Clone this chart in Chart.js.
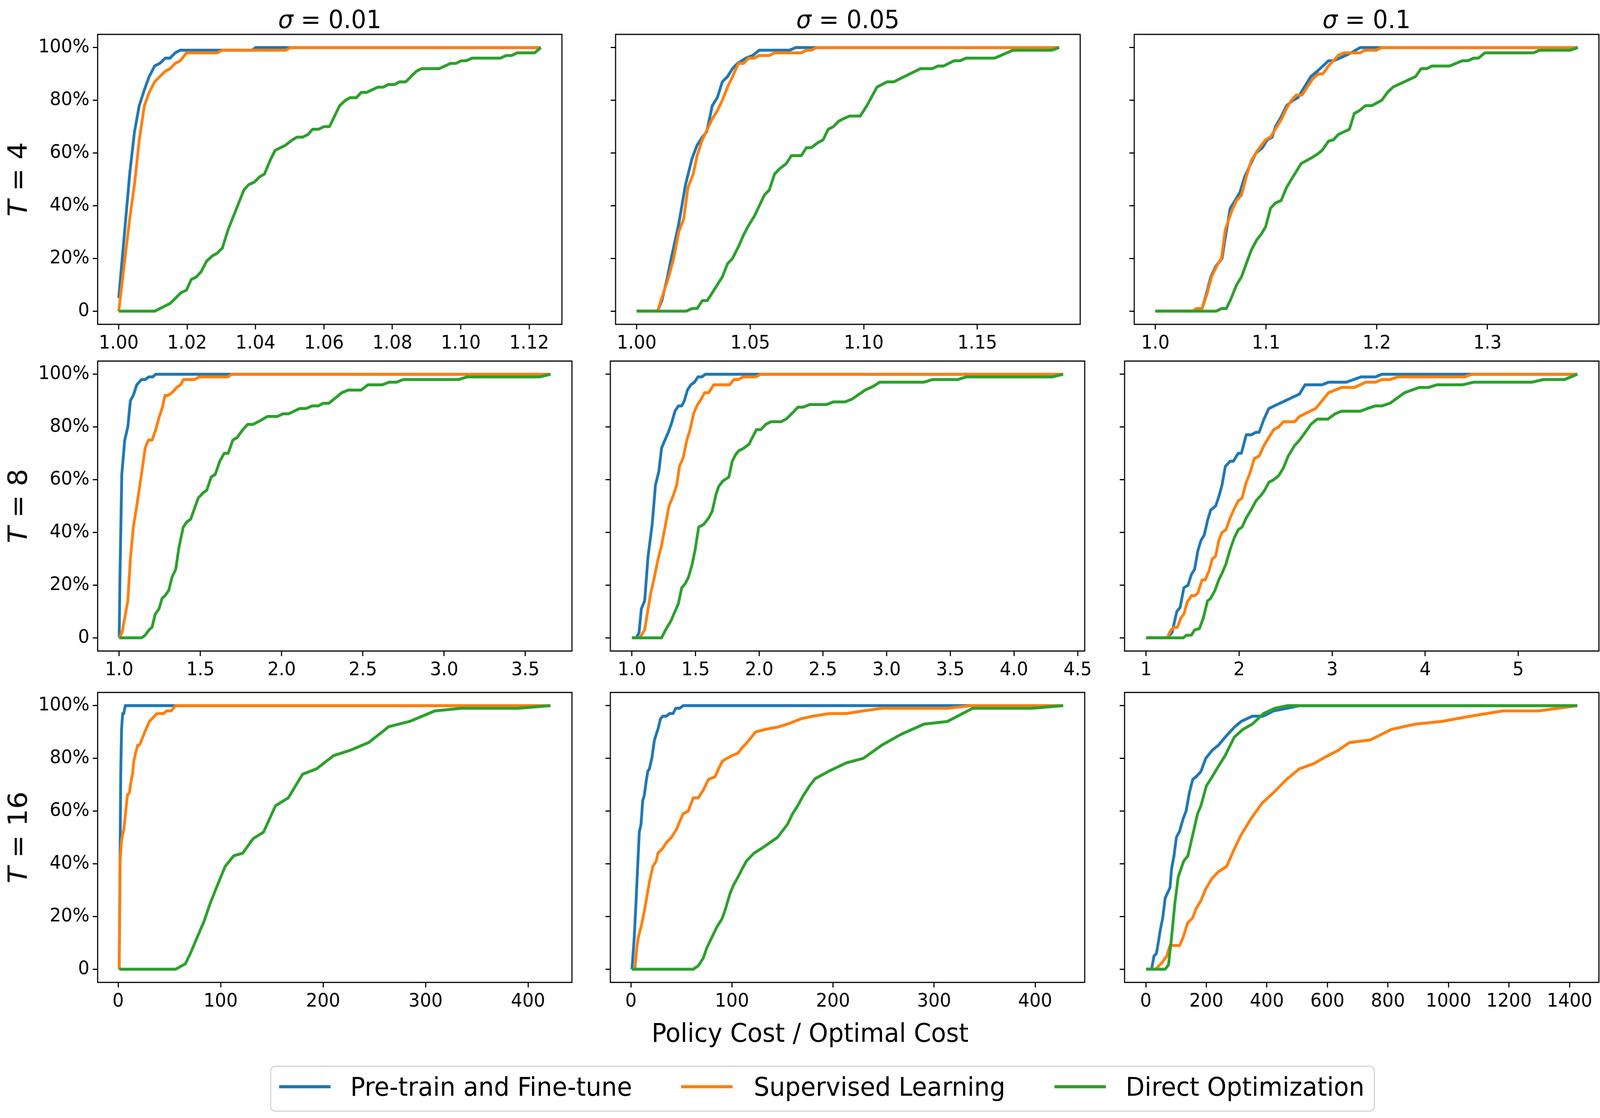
<!DOCTYPE html>
<html>
<head>
<meta charset="utf-8">
<script src="https://cdn.jsdelivr.net/npm/chart.js@4.4.1/dist/chart.umd.min.js"></script>
<style>
  html, body { margin: 0; padding: 0; background: #fff; overflow: hidden; }
  #fig { width: 4294px; height: 2861px; position: absolute; left: 0; top: 0; overflow: hidden; font-family: "DejaVu Sans", sans-serif; color: #000; background: #fff; transform-origin: 0 0; }
  canvas { position: absolute; }
  .txt { position: absolute; white-space: nowrap; line-height: 1; }
  .title { font-size: 64px; transform: translateX(-50%); }
  .rowlab { font-size: 70px; transform: translate(-50%, -50%) rotate(-90deg); }
  .legend { position: absolute; border: 3px solid #d4d4d4; border-radius: 14px; background: #fff; box-sizing: border-box; }
  .lline { position: absolute; height: 8px; }
  .ltxt { font-size: 66px; }
</style>
</head>
<body>
<div id="fig"></div>
<script>
// ---------------- DATA ----------------
const seriesNames = ['Pre-train and Fine-tune', 'Supervised Learning', 'Direct Optimization'];
const colTitles = ['0.01', '0.05', '0.1'];
const rowTitles = ['4', '8', '16'];
const yTicks = [0, 20, 40, 60, 80, 100];

const xTicks_T4_s001 = [1.00, 1.02, 1.04, 1.06, 1.08, 1.10, 1.12];
const xTicks_T4_s005 = [1.00, 1.05, 1.10, 1.15];
const xTicks_T4_s01 = [1.0, 1.1, 1.2, 1.3];
const xTicks_T8_s001 = [1.0, 1.5, 2.0, 2.5, 3.0, 3.5];
const xTicks_T8_s005 = [1.0, 1.5, 2.0, 2.5, 3.0, 3.5, 4.0, 4.5];
const xTicks_T8_s01 = [1, 2, 3, 4, 5];
const xTicks_T16_s001 = [0, 100, 200, 300, 400];
const xTicks_T16_s005 = [0, 100, 200, 300, 400];
const xTicks_T16_s01 = [0, 200, 400, 600, 800, 1000, 1200, 1400];

// T = 4, sigma = 0.01
const pf_T4_s001 = [[1.000,5],[1.0032,52],[1.0046,68],[1.006,78],[1.0075,84],[1.0089,89],[1.0105,93],[1.012,94],[1.0136,96],[1.015,96],[1.0165,98],[1.018,99],[1.039,99],[1.040,100],[1.1234,100]];
const sl_T4_s001 = [[1.000,0],[1.0032,35],[1.0046,48],[1.006,65],[1.0075,78],[1.0089,83],[1.0105,87],[1.012,89],[1.0136,91],[1.015,92],[1.0165,94],[1.018,95],[1.0198,98],[1.0288,98],[1.0303,99],[1.0488,99],[1.0502,100],[1.1234,100]];
const do_T4_s001 = [[1.000,0],[1.0105,0],[1.0151,3],[1.0182,7],[1.0198,8],[1.0212,12],[1.0227,13],[1.0241,15],[1.0257,19],[1.0274,21],[1.0288,22],[1.0303,24],[1.032,31],[1.0366,46],[1.038,48],[1.0397,49],[1.0412,51],[1.0426,52],[1.0442,57],[1.0457,61],[1.0488,63],[1.0508,65],[1.0521,66],[1.0537,66],[1.0553,67],[1.0567,69],[1.0584,69],[1.06,70],[1.0616,70],[1.0646,78],[1.0663,80],[1.0676,81],[1.0695,81],[1.0709,83],[1.0725,83],[1.0741,84],[1.0758,85],[1.0774,85],[1.0788,86],[1.0807,86],[1.0821,87],[1.0839,87],[1.087,91],[1.0886,92],[1.0937,92],[1.097,94],[1.0986,94],[1.1002,95],[1.1016,95],[1.1033,96],[1.1116,96],[1.1133,97],[1.1149,97],[1.1165,98],[1.1216,98],[1.1234,100]];

// T = 4, sigma = 0.05
const pf_T4_s005 = [[1.000,0],[1.0092,0],[1.0111,4],[1.0133,12],[1.0152,20],[1.0185,33],[1.0215,48],[1.0244,58],[1.0266,63],[1.0289,66],[1.0308,68],[1.0333,78],[1.0355,81],[1.0377,87],[1.04,89],[1.0422,92],[1.0444,94],[1.0481,96],[1.0511,97],[1.054,99],[1.0673,99],[1.07,100],[1.186,100]];
const sl_T4_s005 = [[1.000,0],[1.0092,0],[1.0118,7],[1.0141,13],[1.0163,20],[1.0185,30],[1.0207,35],[1.0226,47],[1.0249,52],[1.0266,59],[1.0289,65],[1.0311,69],[1.0333,73],[1.0355,76],[1.0377,80],[1.04,85],[1.0422,89],[1.0448,94],[1.0471,94],[1.0493,96],[1.0518,96],[1.054,97],[1.0585,97],[1.0607,98],[1.0725,98],[1.0747,99],[1.0769,99],[1.0792,100],[1.186,100]];
const do_T4_s005 = [[1.000,0],[1.0218,0],[1.0244,1],[1.0266,1],[1.0289,4],[1.0311,4],[1.0333,7],[1.0377,13],[1.04,18],[1.0422,20],[1.0451,25],[1.0471,29],[1.0496,33],[1.0518,36],[1.0562,44],[1.0584,46],[1.0607,52],[1.0629,54],[1.0659,56],[1.0681,59],[1.0725,59],[1.0747,62],[1.0769,62],[1.0799,64],[1.0821,65],[1.0843,69],[1.0866,70],[1.0888,72],[1.091,73],[1.0937,74],[1.0984,74],[1.1014,78],[1.1058,85],[1.1103,87],[1.1132,87],[1.125,92],[1.1302,92],[1.1327,93],[1.1351,93],[1.1398,95],[1.1424,95],[1.145,96],[1.1576,96],[1.1657,99],[1.1828,99],[1.186,100]];

// T = 4, sigma = 0.1
const pf_T4_s01 = [[1.0,0],[1.037,0],[1.0422,1],[1.0457,6],[1.0501,13],[1.0545,17],[1.0603,20],[1.0632,28],[1.0676,39],[1.072,42],[1.0763,45],[1.0807,51],[1.0851,55],[1.0909,60],[1.0967,62],[1.1011,65],[1.1055,66],[1.1084,70],[1.1127,73],[1.1186,78],[1.1244,80],[1.1288,81],[1.1331,84],[1.1404,89],[1.1462,91],[1.1564,95],[1.1608,95],[1.1666,96],[1.1768,98],[1.185,100],[1.3816,100]];
const sl_T4_s01 = [[1.0,0],[1.034,0],[1.037,1],[1.0422,1],[1.0463,6],[1.0507,13],[1.0559,17.5],[1.0597,20],[1.0632,31],[1.069,38],[1.0734,42],[1.0778,44],[1.0821,51],[1.0865,57],[1.0923,61],[1.0996,65],[1.104,66],[1.1098,70],[1.1142,73],[1.1186,77],[1.1229,80],[1.1273,82],[1.1325,82],[1.1419,88],[1.1471,90],[1.1512,90],[1.1564,93],[1.1652,97],[1.1704,98],[1.185,98],[1.1891,99],[1.1995,99],[1.2045,100],[1.3816,100]];
const do_T4_s01 = [[1.0,0],[1.055,0],[1.0597,1],[1.0641,1],[1.0676,4],[1.0734,10],[1.0778,13],[1.0821,18],[1.0865,23],[1.0915,27],[1.0953,29],[1.0996,32],[1.104,39],[1.1084,41],[1.1136,42],[1.1186,47],[1.1229,50],[1.1317,56],[1.1404,58],[1.1462,59.5],[1.1506,61],[1.1564,64.5],[1.1608,65],[1.1652,67],[1.1753,69],[1.1797,75],[1.1841,76],[1.1899,78],[1.1957,78],[1.2045,80],[1.2097,83],[1.2147,85],[1.2351,89],[1.24,92],[1.2453,92],[1.2496,93],[1.2656,93],[1.2773,95],[1.2823,95],[1.2875,96],[1.2919,96],[1.2977,98],[1.3414,98],[1.3472,99],[1.3749,99],[1.3816,100]];

// T = 8, sigma = 0.01
const pf_T8_s001 = [[1.0,0],[1.0046,23],[1.016,62],[1.034,75],[1.053,80],[1.069,90],[1.087,92],[1.108,96],[1.137,98],[1.16,98],[1.183,99],[1.206,99],[1.225,100],[3.654,100]];
const sl_T8_s001 = [[1.0,0],[1.018,2],[1.053,14],[1.069,30],[1.087,42],[1.103,48],[1.137,62],[1.16,72],[1.179,75],[1.202,75],[1.225,79],[1.247,84],[1.264,87],[1.282,92],[1.302,92],[1.325,93],[1.355,95],[1.378,96],[1.396,98],[1.463,98],[1.493,99],[1.669,99],[1.692,100],[3.654,100]];
const do_T8_s001 = [[1.0,0],[1.137,0],[1.16,1],[1.183,3],[1.202,4],[1.222,9],[1.245,11],[1.264,15],[1.282,16],[1.305,18],[1.325,23],[1.348,26],[1.367,34],[1.394,42],[1.417,44],[1.44,45],[1.486,53],[1.516,55],[1.539,56],[1.566,61],[1.591,62],[1.619,67],[1.646,70],[1.671,70],[1.699,75],[1.726,76],[1.761,79],[1.791,81],[1.825,81],[1.871,82.5],[1.912,84],[1.974,84],[2.008,85],[2.043,85],[2.111,87],[2.15,87],[2.187,88],[2.226,88],[2.256,89],[2.29,89],[2.37,93],[2.409,94],[2.489,94],[2.531,96],[2.62,96],[2.661,97],[2.707,97],[2.748,98],[3.09,98],[3.143,99],[3.589,99],[3.654,100]];

// T = 8, sigma = 0.05
const pf_T8_s005 = [[1.0,0],[1.034,0],[1.056,2],[1.074,11],[1.1,14],[1.127,31],[1.159,43],[1.185,58],[1.211,63],[1.233,72],[1.259,75],[1.286,78],[1.312,81.5],[1.338,86],[1.365,88],[1.391,88],[1.412,90],[1.436,94],[1.463,96],[1.492,97],[1.518,99],[1.55,99],[1.576,100],[4.386,100]];
const sl_T8_s005 = [[1.0,0],[1.061,0],[1.1,3],[1.127,11],[1.148,17],[1.174,22.5],[1.206,30],[1.233,35],[1.264,43],[1.291,50],[1.325,54],[1.352,58],[1.373,65],[1.404,68.5],[1.431,75],[1.457,79],[1.484,85],[1.51,88],[1.537,90],[1.571,93],[1.603,93],[1.642,96],[1.767,96],[1.801,98],[1.835,98],[1.875,99],[1.973,99],[2.012,100],[4.386,100]];
const do_T8_s005 = [[1.0,0],[1.233,0],[1.264,3],[1.307,6.5],[1.338,10],[1.365,13],[1.391,19],[1.418,20.5],[1.444,23],[1.471,27.5],[1.497,33.5],[1.524,42],[1.563,43],[1.603,45.5],[1.63,48],[1.661,54.5],[1.682,57.5],[1.714,59.5],[1.761,61],[1.788,67],[1.814,69.5],[1.84,71],[1.88,72],[1.92,73.5],[1.946,76],[1.978,79],[2.012,79],[2.052,81],[2.092,82],[2.171,82],[2.211,83],[2.264,85.5],[2.303,87.5],[2.343,87.5],[2.396,88.5],[2.528,88.5],[2.581,89.5],[2.673,89.5],[2.726,90.5],[2.832,94],[2.898,95.5],[2.946,97],[3.294,97],[3.361,98],[3.559,98],[3.625,99],[4.299,99],[4.386,100]];

// T = 8, sigma = 0.1
const pf_T8_s01 = [[1,0],[1.226,0],[1.278,2],[1.33,10],[1.365,11.5],[1.406,19],[1.451,20],[1.486,24],[1.521,26],[1.556,33],[1.59,37],[1.625,39],[1.66,44.5],[1.694,48.5],[1.747,50],[1.781,53.5],[1.816,58],[1.851,65],[1.903,67],[1.938,67],[1.99,70],[2.024,70],[2.076,77],[2.128,77],[2.181,78],[2.215,78],[2.267,83],[2.319,87],[2.649,92.5],[2.708,96],[2.892,96],[2.962,97],[3.153,97],[3.309,99],[3.465,99],[3.535,100],[5.635,100]];
const sl_T8_s01 = [[1,0],[1.226,0],[1.267,3],[1.302,4],[1.337,4],[1.372,7.5],[1.406,9],[1.441,13.5],[1.486,16],[1.521,16],[1.556,17],[1.601,22],[1.635,22],[1.677,25.5],[1.712,30],[1.747,31],[1.781,37],[1.816,40],[1.858,41],[1.903,45.5],[1.948,49],[1.99,52],[2.031,53],[2.076,59],[2.111,62],[2.163,68],[2.215,69],[2.267,73],[2.319,76],[2.372,79],[2.424,80],[2.476,82],[2.597,82],[2.649,84],[2.823,87],[2.962,93],[3.101,95],[3.24,95],[3.361,97],[3.465,97],[3.535,98],[3.622,98],[3.708,99],[4.42,99],[4.507,100],[5.635,100]];
const do_T8_s01 = [[1,0],[1.399,0],[1.434,1],[1.486,1],[1.521,3],[1.573,3.5],[1.615,7.5],[1.66,14],[1.694,15],[1.74,18],[1.781,22],[1.816,24.5],[1.858,28],[1.903,33.5],[1.948,38],[1.99,41],[2.031,42],[2.076,45.5],[2.128,48.5],[2.181,52],[2.233,54],[2.274,56],[2.319,59],[2.372,60],[2.424,61.5],[2.476,64.5],[2.528,69],[2.597,73],[2.649,75],[2.701,77.5],[2.771,81],[2.84,83],[2.955,83],[3.031,85],[3.101,86],[3.302,86],[3.378,87],[3.465,88],[3.535,88],[3.622,89],[3.778,93],[3.934,95],[4.038,95],[4.125,96],[4.403,96],[4.524,97],[5.149,97],[5.271,98],[5.497,98],[5.635,100]];

// T = 16, sigma = 0.01
const pf_T16_s001 = [[1,0],[1.5,25],[2,50],[2.5,74],[3.3,91],[4.4,97],[5.5,97],[6.9,100],[421.8,100]];
const sl_T16_s001 = [[1,0],[1.7,29],[2,42],[3.3,49],[5.5,53],[6.9,58],[9,66],[11,67],[12.4,71],[14,74],[15.3,79],[17,82],[19,85],[20.7,85],[23,87],[26,90],[30.5,94],[37.8,97],[44.4,97],[47.3,98],[51.6,98],[56,100],[421.8,100]];
const do_T16_s001 = [[1,0],[56,0],[65.5,2],[70.5,6],[77,12],[83.6,18],[89.8,25],[97,32],[104.4,39],[112.7,43],[121.5,44],[131.6,49.5],[141.8,52],[153.5,62],[166,65],[180,74],[193.5,76],[210,81],[226,83],[244.4,86],[264,92],[284.4,94],[309,98],[335,99],[390,99],[421.8,100]];

// T = 16, sigma = 0.05
const pf_T16_s005 = [[1,0],[1.7,3.4],[3.3,12],[5,25],[6.7,39],[8.3,52],[10,55],[11.7,64],[13.3,66],[15,71],[16.7,75],[18.3,76],[20.7,80],[23.3,87],[26.7,91],[29.3,95],[31.7,96],[35,96],[38.3,97],[41.7,97],[44.3,99],[48.3,99],[51.7,100],[427.7,100]];
const sl_T16_s005 = [[1,0],[4,0],[5.7,7.7],[7.3,12],[10,16],[13.3,22],[16,28],[18.3,33],[21.7,39],[25,41],[26.7,44],[31.7,46],[35,48],[40,50],[45,53],[48.3,56],[51.7,59],[56.7,60],[61.7,65],[66.7,65],[71.7,68],[76.7,72],[83.3,73],[86.7,76],[90.7,79],[95,80],[100,81],[106,82],[110,84],[115,86],[123.3,90],[133.3,91],[146.7,92],[155,93],[168.3,95],[180,96],[196.7,97],[213.3,97],[230,98],[248.3,99],[313.3,99],[336.7,100],[427.7,100]];
const do_T16_s005 = [[1,0],[61.7,0],[66.7,1.3],[71.7,4.3],[75,8],[80,12],[85,16],[90,19],[93.3,22.5],[98.3,29],[101.7,32],[106,35],[110,38],[114.3,41],[121.7,44],[130,46],[145,50],[155,55],[160,59],[165,62],[170,65.5],[176.7,69.5],[182.3,72.3],[196.7,75.3],[213.3,78.3],[230,80],[248.3,85],[266.7,89],[290,93],[313.3,94],[338.3,99],[396.7,99],[427.7,100]];

// T = 16, sigma = 0.1
const pf_T16_s01 = [[1,0],[19,0],[27,5],[35,6],[41,10],[48,15],[56,19.5],[64,27],[72,29],[80,31],[85,38],[93,43],[101,50],[112,52.5],[123,57],[133,60],[144,67],[155,72],[166,73],[182,75],[198,80],[219,83],[240,85],[262,88],[294,92],[315,94],[352,96],[388,96],[422,98],[465,99],[507,100],[1425.7,100]];
const sl_T16_s01 = [[1,0],[33,0],[43,1.3],[53,2.4],[69,5],[80,9],[96,9],[112,9],[123,12],[138,17.5],[155,19.5],[166,23],[182,26],[198,30.5],[219,34.5],[240,37],[267,39],[294,46],[315,51],[347,57],[384,63],[422,67],[465,72],[507,76],[555,78],[593,80.5],[635,83],[673,86],[742,87],[812,91],[892,93],[977,94],[1073,96],[1180,98],[1298,98],[1425.7,100]];
const do_T16_s01 = [[1,0],[64,0],[75,1.7],[85,12],[96,25],[107,35],[125,41],[139,43],[155,51],[171,59],[182,62],[200,69.5],[219,73],[240,77],[262,81],[292,88],[321,91],[352,93],[389,97],[427,99],[469,100],[1425.7,100]];

// ---------------- LAYOUT / STYLE ----------------
const FIG_W = 4294, FIG_H = 2861;
const colors = ['#1f77b4', '#ff7f0e', '#2ca02c'];
const rowTop = [88, 924, 1772];
const rowH = 742;
const colBounds = [
  [[262, 1508], [1652, 2899], [3044, 4291]],
  [[262, 1535], [1638, 2911], [3018, 4291]],
  [[262, 1535], [1638, 2911], [3018, 4291]]
];
const PAD_L = 200, PAD_T = 50, PAD_B = 110;
const tickFont = { family: 'DejaVu Sans', size: 48 };
const fig = document.getElementById('fig');

// fit the 4294x2861 figure into the actual viewport
(function fitFigure() {
  const vw = window.innerWidth || FIG_W, vh = window.innerHeight || FIG_H;
  const sx = vw / FIG_W, sy = vh / FIG_H;
  if (Math.abs(sx - 1) > 0.001 || Math.abs(sy - 1) > 0.001) {
    fig.style.transform = 'scale(' + sx + ',' + sy + ')';
  }
})();

const panels = [
  { r: 0, c: 0, s: [pf_T4_s001, sl_T4_s001, do_T4_s001], xt: xTicks_T4_s001, dec: 2 },
  { r: 0, c: 1, s: [pf_T4_s005, sl_T4_s005, do_T4_s005], xt: xTicks_T4_s005, dec: 2 },
  { r: 0, c: 2, s: [pf_T4_s01, sl_T4_s01, do_T4_s01], xt: xTicks_T4_s01, dec: 1 },
  { r: 1, c: 0, s: [pf_T8_s001, sl_T8_s001, do_T8_s001], xt: xTicks_T8_s001, dec: 1 },
  { r: 1, c: 1, s: [pf_T8_s005, sl_T8_s005, do_T8_s005], xt: xTicks_T8_s005, dec: 1 },
  { r: 1, c: 2, s: [pf_T8_s01, sl_T8_s01, do_T8_s01], xt: xTicks_T8_s01, dec: 0 },
  { r: 2, c: 0, s: [pf_T16_s001, sl_T16_s001, do_T16_s001], xt: xTicks_T16_s001, dec: 0 },
  { r: 2, c: 1, s: [pf_T16_s005, sl_T16_s005, do_T16_s005], xt: xTicks_T16_s005, dec: 0 },
  { r: 2, c: 2, s: [pf_T16_s01, sl_T16_s01, do_T16_s01], xt: xTicks_T16_s01, dec: 0 }
];

const framePlugin = {
  id: 'frame',
  afterDraw(chart) {
    const { ctx, chartArea: a } = chart;
    ctx.save();
    ctx.strokeStyle = '#000';
    ctx.lineWidth = 3;
    ctx.strokeRect(a.left, a.top, a.right - a.left, a.bottom - a.top);
    ctx.restore();
  }
};

panels.forEach(p => {
  const [bl, br] = colBounds[p.r][p.c];
  const bt = rowTop[p.r];
  const padR = Math.min(30, FIG_W - br);
  const cv = document.createElement('canvas');
  const w = (br - bl) + PAD_L + padR;
  const h = rowH + PAD_T + PAD_B;
  cv.width = w; cv.height = h;
  cv.style.left = (bl - PAD_L) + 'px';
  cv.style.top = (bt - PAD_T) + 'px';
  cv.style.width = w + 'px';
  cv.style.height = h + 'px';
  fig.appendChild(cv);

  let xmin = Infinity, xmax = -Infinity;
  p.s.forEach(ser => ser.forEach(pt => { xmin = Math.min(xmin, pt[0]); xmax = Math.max(xmax, pt[0]); }));
  const m = (xmax - xmin) * 0.05;

  new Chart(cv.getContext('2d'), {
    type: 'line',
    data: {
      datasets: p.s.map((ser, i) => ({
        label: seriesNames[i],
        data: ser.map(pt => ({ x: pt[0], y: pt[1] })),
        borderColor: colors[i],
        backgroundColor: colors[i],
        borderWidth: 7.5,
        pointRadius: 0,
        tension: 0,
        fill: false,
        borderJoinStyle: 'round',
        borderCapStyle: 'butt',
        order: 2 - i
      }))
    },
    options: {
      responsive: false,
      animation: false,
      devicePixelRatio: 1,
      layout: { padding: { left: 0, top: PAD_T, right: padR, bottom: 0 } },
      plugins: { legend: { display: false }, tooltip: { enabled: false }, title: { display: false } },
      scales: {
        x: {
          type: 'linear',
          min: xmin - m,
          max: xmax + m,
          afterFit: s => { s.height = PAD_B; },
          afterBuildTicks: s => { s.ticks = p.xt.map(v => ({ value: v })); },
          ticks: { callback: v => Number(v).toFixed(p.dec), font: tickFont, color: '#000', padding: 8, maxRotation: 0, minRotation: 0, autoSkip: false },
          grid: { drawOnChartArea: false, drawTicks: true, tickLength: 13, lineWidth: 3, color: '#000' },
          border: { display: false }
        },
        y: {
          type: 'linear',
          min: -5,
          max: 105,
          afterFit: s => { s.width = PAD_L; },
          afterBuildTicks: s => { s.ticks = yTicks.map(v => ({ value: v })); },
          ticks: { display: p.c === 0, callback: v => (v === 0 ? '0' : v + '%'), font: tickFont, color: '#000', padding: 9 },
          grid: { drawOnChartArea: false, drawTicks: true, tickLength: 13, lineWidth: 3, color: '#000' },
          border: { display: false }
        }
      }
    },
    plugins: [framePlugin]
  });
});

// ---------------- TEXT ----------------
function addText(cls, html, left, top) {
  const d = document.createElement('div');
  d.className = 'txt ' + cls;
  d.innerHTML = html;
  d.style.left = left + 'px';
  d.style.top = top + 'px';
  fig.appendChild(d);
  return d;
}
colTitles.forEach((t, c) => {
  const [bl, br] = colBounds[0][c];
  addText('title', '<i>σ</i> = ' + t, (bl + br) / 2, 18);
});
rowTitles.forEach((t, r) => {
  addText('rowlab', '<i>T</i> = ' + t, 48, rowTop[r] + rowH / 2);
});
addText('ltxt', 'Policy Cost / Optimal Cost', 2174, 2611).style.transform = 'translateX(-50%)';

// legend
const lg = document.createElement('div');
lg.className = 'legend';
lg.style.left = '725px'; lg.style.top = '2727px';
lg.style.width = (3690 - 725) + 'px'; lg.style.height = (2845 - 2727) + 'px';
fig.appendChild(lg);
const lineX = [749, 1828, 2830];
const textX = [940, 2023, 3021];
seriesNames.forEach((n, i) => {
  const l = document.createElement('div');
  l.className = 'lline';
  l.style.left = lineX[i] + 'px';
  l.style.top = (2781 - 4) + 'px';
  l.style.width = '138px';
  l.style.background = colors[i];
  fig.appendChild(l);
  addText('ltxt', n, textX[i], 2749);
});
</script>
</body>
</html>
